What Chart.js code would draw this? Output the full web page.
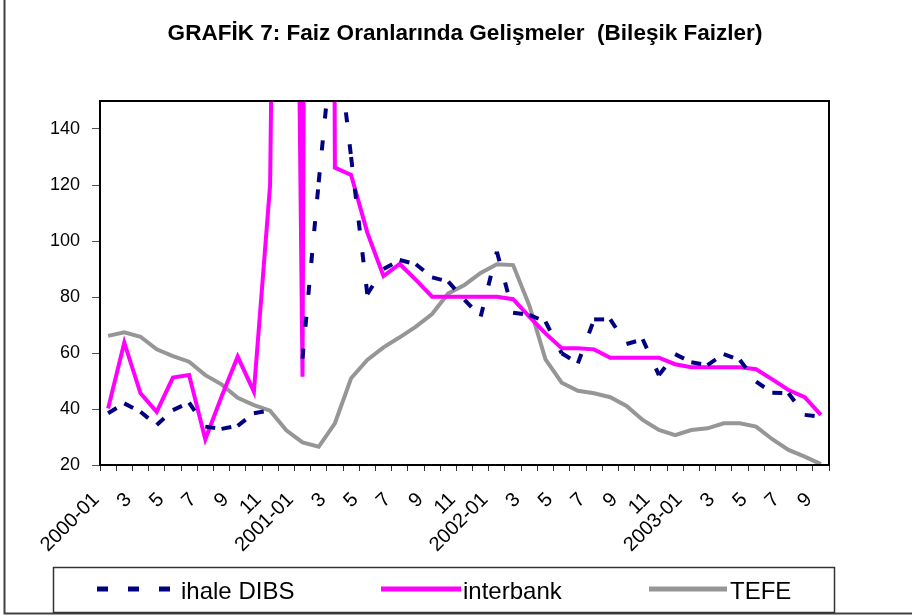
<!DOCTYPE html>
<html>
<head>
<meta charset="utf-8">
<script src="https://cdn.jsdelivr.net/npm/chart.js@4.4.1/dist/chart.umd.min.js"></script>
<style>
  html, body { margin: 0; padding: 0; background: #fff; }
</style>
</head>
<body>
<canvas id="myChart" width="912" height="616"></canvas>
<script>
// monthly categories 2000-01 .. 2003-09
const months = [
  '2000-01','2000-02','2000-03','2000-04','2000-05','2000-06','2000-07','2000-08','2000-09','2000-10','2000-11','2000-12',
  '2001-01','2001-02','2001-03','2001-04','2001-05','2001-06','2001-07','2001-08','2001-09','2001-10','2001-11','2001-12',
  '2002-01','2002-02','2002-03','2002-04','2002-05','2002-06','2002-07','2002-08','2002-09','2002-10','2002-11','2002-12',
  '2003-01','2003-02','2003-03','2003-04','2003-05','2003-06','2003-07','2003-08','2003-09'
];
const tickLabels = [
  '2000-01','','3','','5','','7','','9','','11','',
  '2001-01','','3','','5','','7','','9','','11','',
  '2002-01','','3','','5','','7','','9','','11','',
  '2003-01','','3','','5','','7','','9'
];

const ihaleDibs = [38.5, 42, 39, 34.3, 39.6, 42.3, 33.7, 32.9, 34, 38.5,
  39.5, null, 58, 121, 180, 130, 81, 90, 93.2, 91.7,
  87, 85.5, 79, 73, 96.2, 74.4, 73.6, 71.2, 59.9, 56.3,
  72, 72, 63.2, 64.9, 52.1, 59.6, 56.7, 55.7, 59.6, 57.5,
  49.8, 45.8, 45.6, 37.9, 37.3];
const interbank = [40.2, 63.7, 45.6, 39, 51.2, 52.1, 29.2, 44.4, 58.7, 46.2,
  120, 600, 51.5, 1500, 126.2, 123.6, 103, 87.5, 91.8, 86.1,
  80.1, 80.1, 80.1, 80.1, 80.1, 79.2, 73, 67, 61.7, 61.7,
  61.3, 58.3, 58.3, 58.3, 58.3, 56, 54.9, 54.9, 54.9, 54.9,
  54.2, 50.6, 46.8, 44.2, 37.9];
const tefe = [66.1, 67.4, 65.8, 61.3, 58.9, 56.9, 52.1, 48.8, 44, 41.4,
  39.4, 32.4, 28.1, 26.5, 34.9, 51, 57.5, 62, 65.6, 69.4,
  73.9, 81.3, 84.3, 88.6, 91.7, 91.4, 77, 57.7, 49.4, 46.5,
  45.6, 44.2, 41.1, 36.1, 32.5, 30.7, 32.5, 33.1, 34.9, 34.9,
  33.7, 29.2, 25.4, 23, 20.3];

const seriesNames = ['ihale DIBS', 'interbank', 'TEFE'];
const chartTitle = 'GRAFİK 7: Faiz Oranlarında Gelişmeler  (Bileşik Faizler)';

const FONT = "'Liberation Sans', Arial, sans-serif";

// frame, plot border, title and legend box (Excel style)
const decor = {
  id: 'decor',
  beforeDraw(chart) {
    const c = chart.ctx;
    c.save();
    c.fillStyle = '#fff';
    c.fillRect(0, 0, chart.width, chart.height);
    c.restore();
  },
  afterDraw(chart) {
    const c = chart.ctx;
    const a = chart.chartArea;
    c.save();
    // plot area border
    c.strokeStyle = '#000';
    c.lineWidth = 2;
    c.strokeRect(a.left, a.top, a.right - a.left, a.bottom - a.top);

    // outer frame (left + bottom visible)
    c.strokeStyle = '#404040';
    c.lineWidth = 2;
    c.strokeRect(4.5, -10, 1000, 623.5);

    // title
    c.fillStyle = '#000';
    c.textAlign = 'center';
    c.textBaseline = 'alphabetic';
    let size = 19;
    c.font = 'bold ' + size + 'px ' + FONT;
    size = size * 595 / c.measureText(chartTitle).width;
    c.font = 'bold ' + size.toFixed(2) + 'px ' + FONT;
    c.fillText(chartTitle, 465, 40);

    // legend
    c.lineWidth = 1.5;
    c.strokeStyle = '#333';
    c.strokeRect(53.5, 567.5, 781, 45);
    const items = [
      { x0: 97, x1: 170, tx: 181, dash: [11, 20] },
      { x0: 381, x1: 461, tx: 463, dash: [] },
      { x0: 649, x1: 727, tx: 730, dash: [] }
    ];
    items.forEach((it, i) => {
      const ds = chart.data.datasets[i];
      c.beginPath();
      c.setLineDash(it.dash);
      c.lineCap = 'butt';
      c.lineWidth = 5;
      c.strokeStyle = ds.borderColor;
      c.moveTo(it.x0, 589);
      c.lineTo(it.x1, 589);
      c.stroke();
      c.setLineDash([]);
      c.fillStyle = '#000';
      c.textAlign = 'left';
      c.font = '24px ' + FONT;
      c.fillText(ds.label, it.tx, 599);
    });
    c.restore();
  }
};

const ctx = document.getElementById('myChart');
new Chart(ctx, {
  type: 'line',
  data: {
    labels: months,
    datasets: [
      {
        label: seriesNames[0],
        data: ihaleDibs,
        borderColor: '#000080',
        borderWidth: 4,
        borderDash: [10, 22],
        pointRadius: 0,
        spanGaps: false,
        // restart the dash pattern on every segment, like Excel does
        segment: { borderDashOffset: (s) => (s.p0DataIndex % 2) * 0.01 }
      },
      {
        label: seriesNames[1],
        data: interbank,
        borderColor: '#FF00FF',
        borderWidth: 4,
        pointRadius: 0
      },
      {
        label: seriesNames[2],
        data: tefe,
        borderColor: '#969696',
        borderWidth: 4,
        pointRadius: 0
      }
    ]
  },
  options: {
    responsive: false,
    animation: false,
    devicePixelRatio: 1,
    layout: { padding: { left: 0, right: 83, top: 101, bottom: 0 } },
    plugins: {
      legend: { display: false },
      title: { display: false },
      tooltip: { enabled: false }
    },
    scales: {
      x: {
        offset: true,
        grid: { offset: true, drawOnChartArea: false, drawTicks: true, tickLength: 6, color: '#333' },
        border: { color: '#000', width: 2 },
        ticks: {
          autoSkip: false,
          minRotation: 45,
          maxRotation: 45,
          padding: 17,
          labelOffset: -12,
          color: '#000',
          font: { family: FONT, size: 20 },
          callback: (v, i) => tickLabels[i]
        },
        afterFit: (s) => { s.height = 151; }
      },
      y: {
        min: 20,
        max: 150,
        grid: { drawOnChartArea: false, drawTicks: true, tickLength: 8, color: '#555' },
        border: { color: '#000', width: 2 },
        ticks: {
          stepSize: 20,
          includeBounds: false,
          padding: 12,
          color: '#000',
          font: { family: FONT, size: 18 },
          callback: (v) => (v === 150 ? '' : v)
        },
        afterFit: (s) => { s.width = 100; }
      }
    }
  },
  plugins: [decor]
});
</script>
</body>
</html>
